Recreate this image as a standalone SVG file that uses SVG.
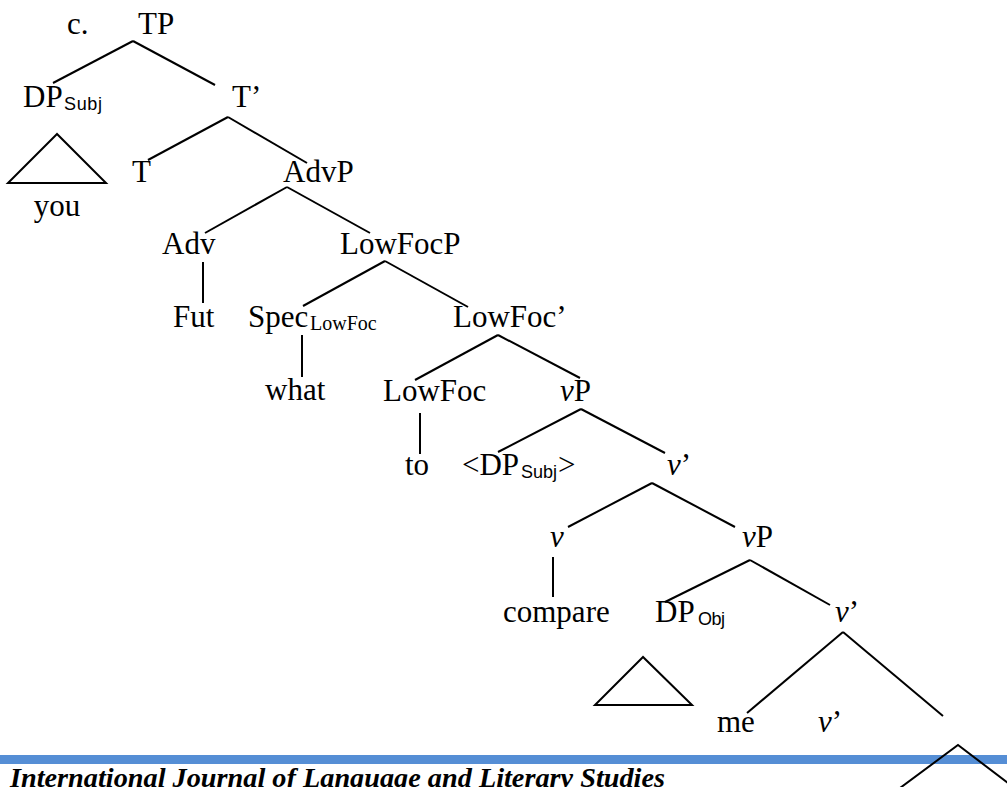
<svg xmlns="http://www.w3.org/2000/svg" width="1007" height="787" viewBox="0 0 1007 787">
<style>
.t{font-family:"Liberation Serif","Times New Roman",serif;font-size:31px;fill:#000}
.i{font-style:italic}
.s{font-family:"Liberation Sans",Arial,sans-serif;font-size:18px;fill:#000}
.ss{font-family:"Liberation Serif","Times New Roman",serif;font-size:20px;fill:#000}
.e line,.e polyline,.e polygon{stroke:#000;stroke-width:2;fill:none}
.f{font-family:"Liberation Serif","Times New Roman",serif;font-size:27px;font-weight:bold;font-style:italic;fill:#000}
</style>
<rect width="1007" height="787" fill="#fff"/>
<rect id="bar" x="0" y="755" width="1007" height="9" fill="#558ED5"/>
<g id="label-c"><text class="t" x="67" y="34">c.</text></g>
<g id="TP"><text class="t" x="138" y="34">TP</text></g>
<g id="DPSubj"><text class="t" x="23" y="107">DP</text><text class="s" x="64" y="110" textLength="38">Subj</text></g>
<g id="Tbar"><text class="t" x="232" y="107">T’</text></g>
<g id="T"><text class="t" x="132" y="182">T</text></g>
<g id="AdvP"><text class="t" x="283" y="182">AdvP</text></g>
<g id="you"><text class="t" x="57" y="216" text-anchor="middle">you</text></g>
<g id="Adv"><text class="t" x="162" y="254">Adv</text></g>
<g id="LowFocP"><text class="t" x="340" y="254">LowFocP</text></g>
<g id="Fut"><text class="t" x="173" y="327">Fut</text></g>
<g id="Spec"><text class="t" x="248" y="327">Spec</text><text class="ss" x="310" y="330">LowFoc</text></g>
<g id="LowFocbar"><text class="t" x="453" y="327">LowFoc’</text></g>
<g id="what"><text class="t" x="265" y="400">what</text></g>
<g id="LowFoc"><text class="t" x="383" y="401">LowFoc</text></g>
<g id="vP1"><text class="t" x="560" y="401"><tspan class="i">v</tspan>P</text></g>
<g id="to"><text class="t" x="405" y="475">to</text></g>
<g id="DPSubjTrace"><text class="t" x="462" y="475">&lt;DP</text><text class="s" x="521" y="478" textLength="36">Subj</text><text class="t" x="558" y="475">&gt;</text></g>
<g id="vbar1"><text class="t" x="667" y="475"><tspan class="i">v</tspan>’</text></g>
<g id="v"><text class="t i" x="550" y="547">v</text></g>
<g id="vP2"><text class="t" x="742" y="547"><tspan class="i">v</tspan>P</text></g>
<g id="compare"><text class="t" x="503" y="622">compare</text></g>
<g id="DPObj"><text class="t" x="655" y="622">DP</text><text class="s" x="698" y="625" textLength="27">Obj</text></g>
<g id="vbar2"><text class="t" x="835" y="622"><tspan class="i">v</tspan>’</text></g>
<g id="me"><text class="t" x="717" y="732">me</text></g>
<g id="vbar3"><text class="t" x="818" y="732"><tspan class="i">v</tspan>’</text></g>
<g id="connectors" class="e">
<line x1="133" y1="41" x2="53" y2="83"/>
<line x1="133" y1="41" x2="215" y2="85"/>
<line x1="228" y1="117" x2="148" y2="160"/>
<line x1="228" y1="117" x2="307" y2="163"/>
<line x1="287" y1="187" x2="205" y2="233"/>
<line x1="287" y1="187" x2="370" y2="233"/>
<line x1="203" y1="262" x2="203" y2="303"/>
<line x1="385" y1="261" x2="303" y2="306"/>
<line x1="385" y1="261" x2="468" y2="307"/>
<line x1="302" y1="335" x2="302" y2="377"/>
<line x1="498" y1="335" x2="415" y2="380"/>
<line x1="498" y1="335" x2="580" y2="378"/>
<line x1="420" y1="413" x2="420" y2="454"/>
<line x1="581" y1="409" x2="498" y2="452"/>
<line x1="581" y1="409" x2="665" y2="453"/>
<line x1="652" y1="483" x2="568" y2="527"/>
<line x1="652" y1="483" x2="735" y2="527"/>
<line x1="553" y1="557" x2="553" y2="597"/>
<line x1="750" y1="560" x2="665" y2="602"/>
<line x1="750" y1="560" x2="830" y2="605"/>
<line x1="843" y1="632" x2="747" y2="713"/>
<line x1="843" y1="632" x2="943" y2="716"/>
<polygon points="57,134 8,183 106,183"/>
<polygon points="643,657 595,705 692,705"/>
<polyline points="900,788 958,745 1008,783"/>
</g>
<g id="footer"><text class="f" x="10" y="787" textLength="655" lengthAdjust="spacingAndGlyphs">International Journal of Language and Literary Studies</text></g>
</svg>
